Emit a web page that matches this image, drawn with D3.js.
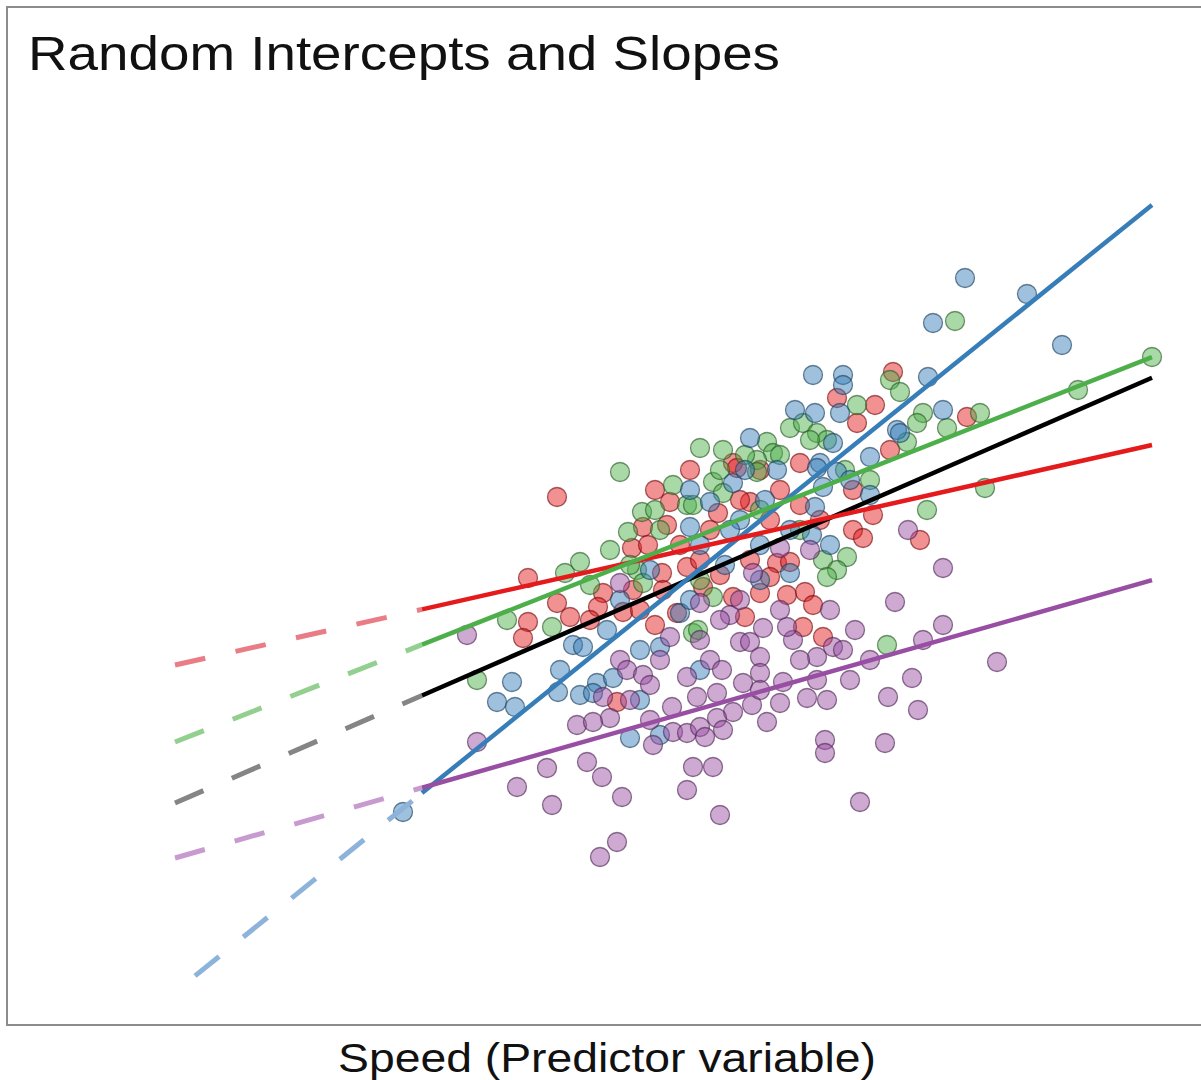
<!DOCTYPE html>
<html>
<head>
<meta charset="utf-8">
<script src="https://cdn.jsdelivr.net/npm/d3@7"></script>
<style>
  html, body { margin: 0; padding: 0; background: #fff; }
  svg { display: block; }
</style>
</head>
<body>
<svg id="chart" width="1201" height="1080"></svg>
<script>
// ---------------- DATA ----------------
const titleText = "Random Intercepts and Slopes";
const xLabelText = "Speed (Predictor variable)";

const groupNames = ["Red", "Green", "Blue", "Purple"];
const groupColors = ["#e41a1c", "#4daf4a", "#377eb8", "#984ea3"];
const dashColors = ["#ea7c86", "#93cf8e", "#8db3db", "#c89bd0"];

// fitted lines (intercept at speed 0, slope)
const groupIntercepts = [33.5, 25.8, 0.8, 14.2];
const groupSlopes = [0.563, 0.985, 2.014, 0.711];
const groupDashStart = [0, 0, 0.8, 0];

const fixedIntercept = 19.7;
const fixedSlope = 1.088;
const fixedDashStart = 0;

const speedMin = 9.88;
const speedMax = 39.08;

// observations: [speed, outcome]
const redPoints = [
  [28.72,62.8],[26.48,60.2],[28.0,59.5],[27.28,57.7],[22.32,53.7],[25.0,53.7],[28.6,55.0],[31.68,58.3],
  [15.28,50.3],[19.2,51.0],[19.8,49.8],[18.72,47.3],[19.68,47.5],[18.28,45.2],[18.92,45.5],[14.12,42.2],
  [15.28,39.7],[15.8,38.3],[14.12,37.8],[13.92,36.2],[17.12,40.7],[16.92,39.3],[18.32,41.0],[19.48,42.7],
  [19.52,41.0],[17.92,38.8],[20.08,38.7],[20.48,43.3],[22.48,53.2],[23.0,49.8],[24.2,51.0],[21.72,48.7],
  [27.12,51.0],[27.92,48.5],[27.12,47.0],[27.52,46.2],[29.8,46.0],[24.08,43.7],[24.6,43.8],[23.8,42.3],
  [21.12,41.3],[22.32,40.3],[23.4,40.7],[24.48,40.5],[25.2,40.8],[25.52,39.5],[22.8,38.3],[25.12,37.3],
  [25.92,36.3],[17.68,29.8],
  [22.6,50.0],[23.8,48.0],[25.0,49.5],[25.8,48.0],[23.4,53.0],[20.6,53.0],[18.6,39.0],[19.2,37.5],
  [16.6,38.0],[23.0,44.0],[21.8,42.5],[21.0,44.0],[21.4,47.0],[20.2,45.5]
];
const greenPoints = [
  [31.2,67.9],[39.08,64.3],[36.12,61.0],[32.2,58.7],[30.88,57.2],[32.4,51.2],[28.6,62.0],[29.0,60.8],
  [27.28,59.5],[29.28,55.8],[29.92,58.7],[29.68,57.7],[24.6,57.2],[25.12,57.7],[25.68,56.7],[26.08,56.0],
  [23.68,55.8],[23.92,54.7],[21.0,55.2],[21.92,55.0],[23.28,54.0],[25.4,56.0],[17.8,52.8],[19.92,51.5],
  [20.48,49.5],[18.68,48.8],[19.2,49.0],[18.12,46.8],[16.2,43.8],[15.6,42.7],[13.28,38.0],[15.08,37.3],
  [18.48,43.0],[18.72,41.7],[20.72,36.7],[21.52,51.8],[23.28,52.8],[21.92,50.7],[20.72,49.5],[30.08,49.0],
  [25.92,44.0],[26.88,44.3],[26.48,43.0],[26.08,42.3],[21.52,40.3],[20.92,37.0],[28.48,35.5],[12.08,32.0],
  [21.8,53.0],[22.8,54.5],[24.2,54.5],[19.4,47.0],[17.4,45.0],[18.2,43.5],[21.0,42.0],[23.4,49.0],
  [26.8,53.0],[27.8,52.0],[25.0,47.0],[16.6,41.5]
];
const bluePoints = [
  [31.6,72.2],[34.08,70.6],[30.32,67.7],[35.48,65.5],[25.52,62.5],[26.72,62.5],[26.72,61.5],[30.12,62.3],
  [26.6,58.7],[28.88,57.0],[30.72,59.0],[25.6,58.7],[23.0,56.2],[26.32,55.7],[27.8,54.3],[29.0,56.7],
  [25.8,53.7],[22.32,51.7],[24.08,53.0],[25.68,53.2],[26.48,52.8],[21.4,49.8],[25.92,51.3],[27.8,50.5],
  [25.6,49.3],[25.48,46.5],[26.2,45.5],[24.6,42.7],[20.6,47.3],[15.92,35.5],[16.32,35.3],[17.28,37.0],
  [18.6,35.0],[19.4,35.3],[20.2,38.7],[13.48,31.8],[12.88,29.8],[13.6,29.3],[15.32,30.8],[16.2,30.5],
  [16.88,31.7],[17.52,32.2],[16.72,30.7],[18.2,26.2],[9.12,18.8],[23.6,50.0],[22.6,48.0],[21.0,45.5],
  [22.0,43.5],[23.4,45.5],[19.4,26.5],[21.0,33.0],
  [20.6,51.0],[22.8,53.0],[24.8,59.0],[19.0,43.0],[17.8,40.0],[15.4,33.0],[18.6,30.0],[20.6,40.0],
  [22.2,47.0],[23.4,42.0],[24.6,47.0],[27.0,52.0]
];
const purplePoints = [
  [30.72,43.2],[30.72,37.5],[32.88,33.8],[25.4,45.0],[24.2,45.2],[23.12,42.7],[29.32,47.0],[28.8,39.8],
  [21.0,39.7],[22.2,38.5],[23.52,37.2],[22.6,35.8],[23.0,35.8],[24.72,36.0],[24.48,37.3],[26.32,35.3],
  [27.2,37.0],[29.92,36.0],[21.4,34.0],[23.4,34.3],[25.68,34.3],[26.72,35.0],[11.68,36.5],[17.8,34.0],
  [19.8,36.3],[17.8,41.7],[18.08,33.0],[18.72,32.5],[19.0,31.5],[17.12,30.3],[17.4,28.2],[16.08,27.5],
  [16.72,27.8],[19.12,25.5],[19.88,29.3],[19.92,26.8],[20.48,26.7],[20.48,32.3],[20.88,30.3],[14.88,23.2],
  [16.48,23.8],[17.08,22.3],[13.68,21.3],[15.08,19.5],[17.88,20.3],[20.48,21.0],[20.72,23.3],[17.68,15.8],
  [17.0,14.3],[21.88,33.0],[23.4,32.7],[22.72,31.7],[21.68,30.7],[22.32,28.8],[23.08,29.5],[24.2,29.7],
  [24.32,31.8],[25.28,30.2],[26.08,30.0],[25.68,32.0],[23.68,27.8],[21.68,28.2],[21.0,27.3],[21.92,27.0],
  [21.2,26.3],[26.0,26.0],[26.0,24.7],[21.52,23.3],[21.8,18.5],[27.4,19.8],[29.48,32.2],[28.52,30.3],
  [29.72,29.0],[28.4,25.7],[12.08,25.8],
  [19.4,34.0],[21.0,36.0],[21.8,38.0],[24.2,39.0],[26.2,39.0],[23.4,31.0],[19.0,28.0],[18.2,30.0],
  [25.0,34.0],[27.0,32.0],[27.8,34.0],[22.6,40.0]
];
const groupPoints = [redPoints, greenPoints, bluePoints, purplePoints];

// ---------------- CHART ----------------
const svg = d3.select("#chart");

const x = d3.scaleLinear().domain([0, 40]).range([175, 1175]);
const y = d3.scaleLinear().domain([0, 100]).range([1000, 0]);

// panel border
svg.append("rect")
  .attr("x", 7).attr("y", 7)
  .attr("width", 1210).attr("height", 1018)
  .attr("fill", "none")
  .attr("stroke", "#8c8c8c")
  .attr("stroke-width", 2);

// title
svg.append("text")
  .attr("x", 28).attr("y", 70)
  .attr("font-family", "Liberation Sans, Arial, sans-serif")
  .attr("font-size", 48)
  .attr("textLength", 752)
  .attr("lengthAdjust", "spacingAndGlyphs")
  .attr("fill", "#111")
  .text(titleText);

// x label
svg.append("text")
  .attr("x", 338).attr("y", 1072)
  .attr("font-family", "Liberation Sans, Arial, sans-serif")
  .attr("font-size", 41)
  .attr("textLength", 538)
  .attr("lengthAdjust", "spacingAndGlyphs")
  .attr("fill", "#111")
  .text(xLabelText);

// points
const ptLayer = svg.append("g");
groupPoints.forEach((pts, gi) => {
  const c = groupColors[gi];
  ptLayer.append("g").selectAll("circle")
    .data(pts)
    .join("circle")
    .attr("cx", d => x(d[0]))
    .attr("cy", d => y(d[1]))
    .attr("r", 9.5)
    .attr("fill", c)
    .attr("fill-opacity", 0.48)
    .attr("stroke", d3.color(c).darker(1.8))
    .attr("stroke-opacity", 0.65)
    .attr("stroke-width", 1.3);
});

const line = d3.line().x(d => x(d[0])).y(d => y(d[1]));
const seg = (a, b, x0, x1) => [[x0, a + b * x0], [x1, a + b * x1]];

// dashed extrapolations
const dashLayer = svg.append("g");
groupNames.forEach((g, gi) => {
  dashLayer.append("path")
    .attr("d", line(seg(groupIntercepts[gi], groupSlopes[gi], groupDashStart[gi], speedMin)))
    .attr("fill", "none")
    .attr("stroke", dashColors[gi])
    .attr("stroke-width", 5)
    .attr("stroke-dasharray", "31,31");
});
dashLayer.append("path")
  .attr("d", line(seg(fixedIntercept, fixedSlope, fixedDashStart, speedMin)))
  .attr("fill", "none")
  .attr("stroke", "#858585")
  .attr("stroke-width", 5)
  .attr("stroke-dasharray", "31,31");

// solid fitted lines
const solidLayer = svg.append("g");
solidLayer.append("path")
  .attr("d", line(seg(fixedIntercept, fixedSlope, speedMin, speedMax)))
  .attr("fill", "none")
  .attr("stroke", "#000")
  .attr("stroke-width", 4.5);
[2, 3, 0, 1].forEach(gi => {
  solidLayer.append("path")
    .attr("d", line(seg(groupIntercepts[gi], groupSlopes[gi], speedMin, speedMax)))
    .attr("fill", "none")
    .attr("stroke", groupColors[gi])
    .attr("stroke-width", 4.5);
});
</script>
</body>
</html>
